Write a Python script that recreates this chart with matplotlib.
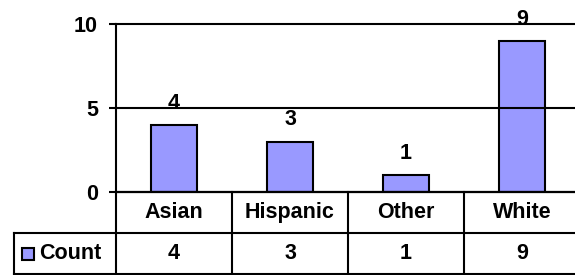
import matplotlib.pyplot as plt
from matplotlib.patches import Rectangle
import numpy as np

# data
categories = ['Asian', 'Hispanic', 'Other', 'White']
counts = [4, 3, 1, 9]
series_name = 'Count'
y_ticks = [0, 5, 10]

bar_color = '#9999FF'
plt.rcParams['font.family'] = ['Liberation Sans', 'DejaVu Sans']
plt.rcParams['font.weight'] = 'bold'
fs = 15.5
lw = 1.5

W, H = 575, 275
fig = plt.figure(figsize=(W / 100, H / 100), dpi=100)

# main plot area (pixel coords converted to figure fractions)
left, right = 116, 580
top, base, tbot = 24, 192, 274
ax = fig.add_axes([left / W, (H - base) / H, (right - left) / W, (base - top) / H])

x = np.arange(len(categories))
ax.bar(x, counts, width=0.4, color=bar_color, edgecolor='black', linewidth=lw)
for xi, c in zip(x, counts):
    ax.annotate(str(c), (xi, c), xytext=(0, 8), textcoords='offset points',
                ha='center', va='bottom', fontsize=fs, fontweight='bold')

ax.set_xlim(-0.5, len(categories) - 0.5)
ax.set_ylim(0, 10)
ax.set_yticks(y_ticks)
ax.set_xticks([])
ax.tick_params(axis='y', length=5, width=lw, pad=8, labelsize=fs, colors='black')
for lab in ax.get_yticklabels():
    lab.set_fontweight('bold')
ax.yaxis.grid(True, color='black', linewidth=lw)
for gl in ax.get_ygridlines():
    gl.set_clip_on(False)
for s in ['top', 'right']:
    ax.spines[s].set_visible(False)
ax.spines['left'].set_linewidth(lw)
ax.spines['bottom'].set_linewidth(lw)

# data table under the plot
tax = fig.add_axes([left / W, (H - tbot) / H, (right - left) / W, (tbot - base) / H])
tax.set_xlim(ax.get_xlim())
tax.set_ylim(0, 2)
tax.axis('off')

edges = np.arange(len(categories) + 1) - 0.5
label_left = edges[0] - 102 / 116
tax.plot([edges[0], edges[-1]], [2, 2], color='black', lw=lw, clip_on=False)
for yy in [1, 0]:
    tax.plot([label_left, edges[-1]], [yy, yy], color='black', lw=lw, clip_on=False)
for e in edges:
    tax.plot([e, e], [0, 2], color='black', lw=lw, clip_on=False)
tax.plot([label_left, label_left], [0, 1], color='black', lw=lw, clip_on=False)

for xi, cat, c in zip(x, categories, counts):
    tax.text(xi, 1.5, cat, ha='center', va='center', fontsize=fs, fontweight='bold')
    tax.text(xi, 0.5, str(c), ha='center', va='center', fontsize=fs, fontweight='bold')

# legend key in the row header
tax.add_patch(Rectangle((label_left + 8 / 116, 0.5 - 6 / 41), 12 / 116, 12 / 41,
                        facecolor=bar_color, edgecolor='black', lw=lw, clip_on=False))
tax.text(label_left + 25 / 116, 0.5, series_name, ha='left', va='center',
         fontsize=fs, fontweight='bold')

fig.savefig('out.png', dpi=100)
